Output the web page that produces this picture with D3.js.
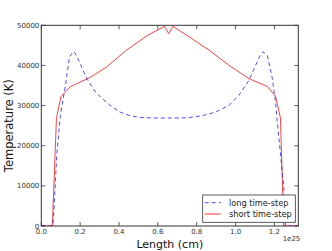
<!DOCTYPE html>
<html>
<head>
<meta charset="utf-8">
<script src="https://cdn.jsdelivr.net/npm/d3@7"></script>
<style>
  body { margin: 0; background: #fff; }
  text { font-family: "DejaVu Sans", sans-serif; }
</style>
</head>
<body>
<div id="chart"></div>
<script>
// length in units of 1e25 cm, temperature in K
const longX = [0, 0.058, 0.063, 0.08, 0.098, 0.123, 0.145, 0.165, 0.175, 0.2, 0.234, 0.285, 0.353, 0.404, 0.45, 0.506, 0.6, 0.7, 0.762, 0.83, 0.899, 0.967, 1.018, 1.069, 1.103, 1.13, 1.142, 1.163, 1.188, 1.205, 1.214, 1.248, 1.256, 1.323];
const longT = [0, 0, 2000, 18000, 27500, 34600, 42100, 43500, 43000, 40500, 36700, 33000, 30100, 28400, 27600, 27000, 26900, 26900, 27000, 27500, 28400, 30100, 32600, 36300, 40000, 42800, 43400, 42500, 37100, 31300, 26400, 9800, 0, 0];

const shortX = [0, 0.057, 0.078, 0.101, 0.148, 0.251, 0.336, 0.438, 0.541, 0.634, 0.656, 0.677, 0.762, 0.864, 0.967, 1.069, 1.163, 1.206, 1.231, 1.248, 1.249, 1.323];
const shortT = [0, 0, 26800, 32200, 34650, 37000, 39600, 43800, 47300, 49750, 47900, 49750, 47100, 43800, 40000, 36700, 34800, 32300, 26900, 0, 0, 0];

const xTicks = [0, 0.2, 0.4, 0.6, 0.8, 1.0, 1.2];
const yTicks = [0, 10000, 20000, 30000, 40000, 50000];

const width = 332;
const height = 251;
const margin = { top: 25.3, left: 41.3, right: 33.7, bottom: 25 };

const svg = d3.select('#chart')
    .append('svg')
    .attr('width', width)
    .attr('height', height);

const x = d3.scaleLinear()
    .domain([0, 1.323])
    .range([margin.left, width - margin.right]);

const y = d3.scaleLinear()
    .domain([0, 50000])
    .range([height - margin.bottom, margin.top]);

// frame
svg.append('rect')
    .attr('x', x(0))
    .attr('y', y(50000))
    .attr('width', x(1.323) - x(0))
    .attr('height', y(0) - y(50000))
    .attr('fill', 'none')
    .attr('stroke', '#333')
    .attr('stroke-width', 1);

// ticks inward on all sides
const tickLen = 4;
const tickColor = '#333';
xTicks.forEach(t => {
    svg.append('line')
        .attr('x1', x(t)).attr('x2', x(t))
        .attr('y1', y(0)).attr('y2', y(0) - tickLen)
        .attr('stroke', tickColor).attr('stroke-width', 0.8);
    svg.append('line')
        .attr('x1', x(t)).attr('x2', x(t))
        .attr('y1', y(50000)).attr('y2', y(50000) + tickLen)
        .attr('stroke', tickColor).attr('stroke-width', 0.8);
});
yTicks.forEach(t => {
    svg.append('line')
        .attr('x1', x(0)).attr('x2', x(0) + tickLen)
        .attr('y1', y(t)).attr('y2', y(t))
        .attr('stroke', tickColor).attr('stroke-width', 0.8);
    svg.append('line')
        .attr('x1', x(1.323)).attr('x2', x(1.323) - tickLen)
        .attr('y1', y(t)).attr('y2', y(t))
        .attr('stroke', tickColor).attr('stroke-width', 0.8);
});

// tick labels
svg.append('g')
    .selectAll('text')
    .data(xTicks)
    .enter()
    .append('text')
    .attr('x', d => x(d))
    .attr('y', y(0) + 8)
    .attr('text-anchor', 'middle')
    .style('font-size', '7px')
    .style('fill', '#333')
    .text(d => d.toFixed(1));

svg.append('g')
    .selectAll('text')
    .data(yTicks)
    .enter()
    .append('text')
    .attr('x', x(0) - 2)
    .attr('y', d => y(d) + 2.5)
    .attr('text-anchor', 'end')
    .style('font-size', '7px')
    .style('fill', '#333')
    .text(d => d);

svg.append('text')
    .attr('x', x(1.323) + 2)
    .attr('y', y(0) + 15)
    .attr('text-anchor', 'end')
    .style('font-size', '7px')
    .style('fill', '#333')
    .text('1e25');

// axis titles
svg.append('text')
    .attr('x', (x(0) + x(1.323)) / 2)
    .attr('y', 247.5)
    .attr('text-anchor', 'middle')
    .style('font-size', '11px')
    .style('fill', '#111')
    .text('Length (cm)');

svg.append('text')
    .attr('transform', `translate(13,${(y(0) + y(50000)) / 2}) rotate(-90)`)
    .attr('text-anchor', 'middle')
    .style('font-size', '11.5px')
    .style('fill', '#111')
    .text('Temperature (K)');

// lines
svg.append('clipPath').attr('id', 'plotClip')
    .append('rect')
    .attr('x', x(0)).attr('y', y(50000))
    .attr('width', x(1.323) - x(0)).attr('height', y(0) - y(50000));

const line = d3.line()
    .x(d => x(d[0]))
    .y(d => y(d[1]));

svg.append('path')
    .datum(shortX.map((v, i) => [v, shortT[i]]))
    .attr('clip-path', 'url(#plotClip)')
    .attr('fill', 'none')
    .attr('stroke', 'rgba(255,0,0,0.75)')
    .attr('stroke-width', 1)
    .attr('d', line);

svg.append('path')
    .datum(longX.map((v, i) => [v, longT[i]]))
    .attr('clip-path', 'url(#plotClip)')
    .attr('fill', 'none')
    .attr('stroke', 'rgba(0,0,255,0.7)')
    .attr('stroke-width', 1)
    .attr('stroke-dasharray', '4,3')
    .attr('d', line);

// legend
const lg = svg.append('g').attr('transform', 'translate(202.7,195)');
lg.append('rect')
    .attr('width', 92.6)
    .attr('height', 27.3)
    .attr('fill', '#fff')
    .attr('stroke', '#333')
    .attr('stroke-width', 0.8);
lg.append('line')
    .attr('x1', 2).attr('x2', 18)
    .attr('y1', 7.7).attr('y2', 7.7)
    .attr('stroke', 'rgba(0,0,255,0.7)')
    .attr('stroke-dasharray', '4,3');
lg.append('line')
    .attr('x1', 2).attr('x2', 18)
    .attr('y1', 19).attr('y2', 19)
    .attr('stroke', 'rgba(255,0,0,0.45)')
    .attr('stroke-width', 1.8);
lg.append('text')
    .attr('x', 26.3).attr('y', 10.6)
    .style('font-size', '8.2px')
    .style('fill', '#222')
    .text('long time-step');
lg.append('text')
    .attr('x', 26.3).attr('y', 22.1)
    .style('font-size', '8.2px')
    .style('fill', '#222')
    .text('short time-step');
</script>
</body>
</html>
